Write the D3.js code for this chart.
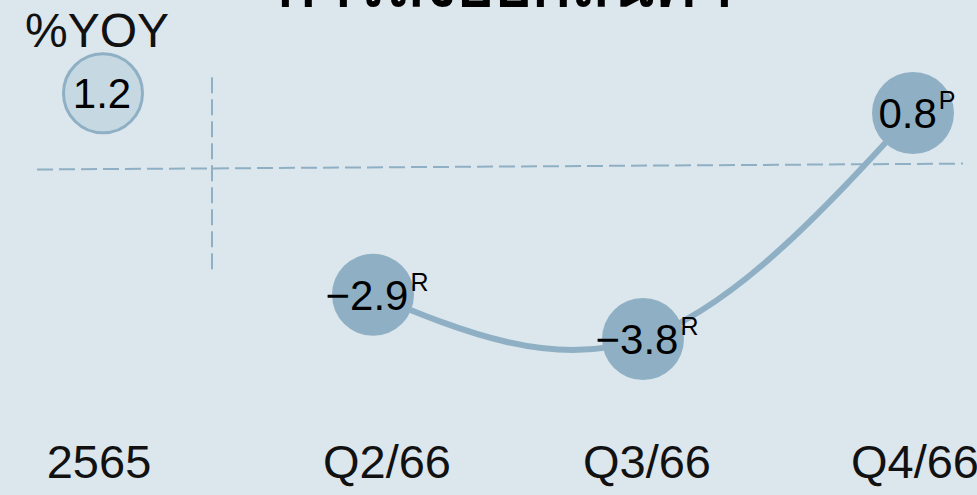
<!DOCTYPE html>
<html>
<head>
<meta charset="utf-8">
<script src="https://cdn.jsdelivr.net/npm/d3@7"></script>
<style>
body { margin: 0; background: #dce6ed; }
svg { display: block; font-family: 'Liberation Sans', Arial, sans-serif; }
</style>
</head>
<body>
<script>
width = 977
height = 495

categories = ['2565', 'Q2/66', 'Q3/66', 'Q4/66']
values = [1.2, -2.9, -3.8, 0.8]
marks = ['', 'R', 'R', 'P']
title = 'การส่งออกสินค้า'
unit = '%YOY'
guideLevels = [-0.35, -0.23]   // dashed guide, a little tilted in the source

lineColor = '#8fb0c4'

svg = d3.select('body')
    .append('svg')
    .attr('width', width)
    .attr('height', height)

svg.append('rect')
    .attr('width', width)
    .attr('height', height)
    .style('fill', '#dce6ed')

var xScale = d3.scalePoint()
    .domain(categories)
    .range([103, 913])

var yScale = d3.scaleLinear()
    .domain([-3.8, 0.8])
    .range([339, 113])

var data = categories.map((c, i) => ({cat: c, value: values[i], mark: marks[i]}))

// title (cut off at the top edge, as in the source)
svg.append('text')
    .text(title)
    .attr('x', 505)
    .attr('y', 6)
    .attr('text-anchor', 'middle')
    .style('font-size', 64)
    .style('font-weight', 'bold')
    .style('fill', '#000')

// unit
svg.append('text')
    .text(unit)
    .attr('x', 25)
    .attr('y', 47)
    .style('font-size', 48)
    .style('fill', '#111')

// dashed guides
svg.append('line')
    .attr('x1', 37)
    .attr('x2', 963)
    .attr('y1', yScale(guideLevels[0]))
    .attr('y2', yScale(guideLevels[1]))
    .style('stroke', lineColor)
    .style('stroke-width', 2)
    .style('stroke-dasharray', '16,6')

var divider = (xScale(categories[0]) + xScale(categories[1])) / 2 - 26
svg.append('line')
    .attr('x1', divider)
    .attr('x2', divider)
    .attr('y1', yScale(1.53))
    .attr('y2', yScale(-2.41))
    .style('stroke', lineColor)
    .style('stroke-width', 2)
    .style('stroke-dasharray', '16,6')

// quarterly line
var quarters = data.slice(1)
var line = d3.line()
    .x(d => xScale(d.cat))
    .y(d => yScale(d.value))
    .curve(d3.curveNatural)

svg.append('path')
    .datum(quarters)
    .attr('d', line)
    .style('fill', 'none')
    .style('stroke', lineColor)
    .style('stroke-width', 6)
    .style('stroke-linecap', 'round')

// bubbles
svg.selectAll('circle.dot')
    .data(data)
    .enter()
    .append('circle')
    .attr('class', 'dot')
    .attr('cx', d => xScale(d.cat))
    .attr('cy', d => yScale(d.value))
    .attr('r', (d, i) => i == 0 ? 39.5 : 41)
    .style('fill', (d, i) => i == 0 ? '#c6d9e3' : lineColor)
    .style('stroke', (d, i) => i == 0 ? lineColor : 'none')
    .style('stroke-width', 3)

// value labels with superscript marks
var labels = svg.selectAll('text.val')
    .data(data)
    .enter()
    .append('text')
    .attr('class', 'val')
    .attr('x', (d, i) => xScale(d.cat) + (i == 0 ? -1 : 4))
    .attr('y', d => yScale(d.value) + 15)
    .attr('text-anchor', 'middle')
    .style('font-size', 42)
    .style('fill', '#000')

labels.append('tspan')
    .text(d => d.value < 0 ? '\u2212' + Math.abs(d.value).toFixed(1) : d.value.toFixed(1))

labels.append('tspan')
    .text(d => d.mark)
    .attr('dx', 2)
    .attr('dy', -19)
    .style('font-size', 25)

// category labels
svg.selectAll('text.cat')
    .data(categories)
    .enter()
    .append('text')
    .attr('class', 'cat')
    .text(d => d)
    .attr('x', (d, i) => xScale(d) + [-4, 14, 4, 2][i])
    .attr('y', 478)
    .attr('text-anchor', 'middle')
    .style('font-size', 47)
    .style('fill', '#111')
</script>
</body>
</html>
